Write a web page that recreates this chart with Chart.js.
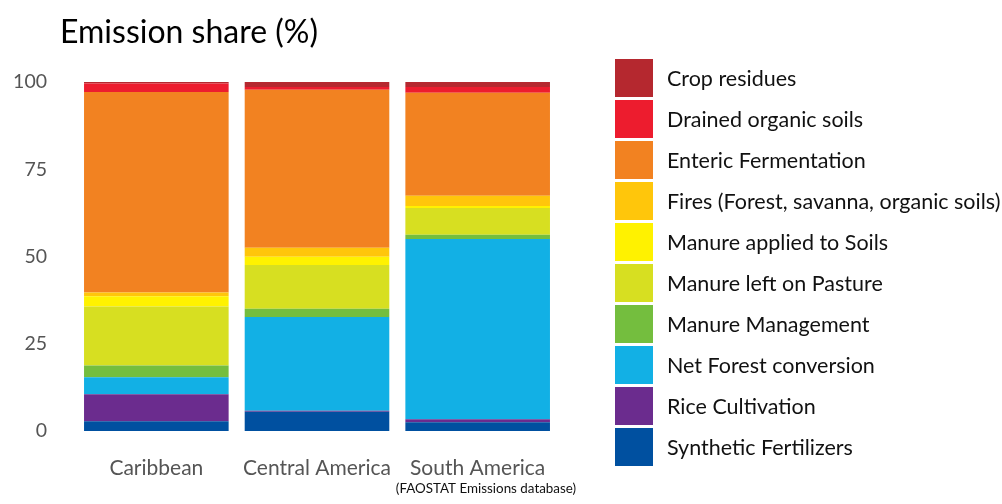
<!DOCTYPE html>
<html>
<head>
<meta charset="utf-8">
<script src="https://cdn.jsdelivr.net/npm/chart.js@4"></script>
<style>
  html, body { margin: 0; padding: 0; background: #fff; }
  #wrap { position: relative; width: 1002px; height: 504px; }
</style>
</head>
<body>
<div id="wrap"><canvas id="chart" width="1002" height="504"></canvas></div>
<script>
var regions = ["Caribbean", "Central America", "South America"];

// stacked from the bottom up
var syntheticFertilizers = [2.8, 5.5, 2.5];
var riceCultivation      = [7.7, 0.3, 0.9];
var netForestConversion  = [4.9, 26.9, 51.6];
var manureManagement     = [3.4, 2.3, 1.2];
var manureLeftOnPasture  = [16.9, 12.6, 7.7];
var manureAppliedSoils   = [2.9, 2.3, 0.6];
var fires                = [1.1, 2.6, 2.9];
var entericFermentation  = [57.4, 45.3, 29.5];
var drainedOrganicSoils  = [2.5, 0.8, 1.7];
var cropResidues         = [0.4, 1.5, 1.4];

var yTicks = [0, 25, 50, 75, 100];

var FONT = "Lato, 'Open Sans', sans-serif";

function ds(label, data, color) {
  return { label: label, data: data, backgroundColor: color, borderWidth: 0,
           barPercentage: 1, categoryPercentage: 0.9 };
}

// draws the right-hand legend, the title and the source note
var extras = {
  id: "extras",
  afterDraw: function (chart) {
    var ctx = chart.ctx;
    ctx.save();
    ctx.textBaseline = "alphabetic";
    ctx.textAlign = "left";
    ctx.fillStyle = "#000";
    ctx.font = "32px " + FONT;
    ctx.fillText("Emission share (%)", 60, 43);

    var sets = chart.data.datasets;
    ctx.font = "21.5px " + FONT;
    for (var i = 0; i < sets.length; i++) {
      var d = sets[sets.length - 1 - i];
      var y = 59 + i * 41;
      ctx.fillStyle = d.backgroundColor;
      ctx.fillRect(615, y, 38, 38);
      ctx.fillStyle = "#111";
      ctx.fillText(d.label, 667, y + 27);
    }

    ctx.font = "13.4px " + FONT;
    ctx.textAlign = "center";
    ctx.fillStyle = "#111";
    ctx.fillText("(FAOSTAT Emissions database)", 486, 493);
    ctx.restore();
  }
};

new Chart(document.getElementById("chart"), {
  type: "bar",
  data: {
    labels: regions,
    datasets: [
      ds("Synthetic Fertilizers", syntheticFertilizers, "#0050A0"),
      ds("Rice Cultivation", riceCultivation, "#6B2C8E"),
      ds("Net Forest conversion", netForestConversion, "#12B0E5"),
      ds("Manure Management", manureManagement, "#74BE3E"),
      ds("Manure left on Pasture", manureLeftOnPasture, "#D7DF21"),
      ds("Manure applied to Soils", manureAppliedSoils, "#FFF200"),
      ds("Fires (Forest, savanna, organic soils)", fires, "#FFC60B"),
      ds("Enteric Fermentation", entericFermentation, "#F28221"),
      ds("Drained organic soils", drainedOrganicSoils, "#ED1C2E"),
      ds("Crop residues", cropResidues, "#B5282F")
    ]
  },
  options: {
    responsive: false,
    animation: false,
    layout: { padding: { left: 0, top: 82, right: 444, bottom: 0 } },
    plugins: {
      legend: { display: false },
      tooltip: { enabled: false }
    },
    scales: {
      x: {
        stacked: true,
        grid: { display: false, drawTicks: false },
        border: { display: false },
        ticks: { color: "#555", font: { family: FONT, size: 21 }, padding: 25 },
        afterFit: function (s) { s.height = 73; }
      },
      y: {
        stacked: true,
        min: 0,
        max: 100,
        afterBuildTicks: function (s) { s.ticks = yTicks.map(function (v) { return { value: v }; }); },
        grid: { display: false, drawTicks: false },
        border: { display: false },
        ticks: { color: "#555", font: { family: FONT, size: 19.5 }, padding: 29 },
        afterFit: function (s) { s.width = 76; }
      }
    }
  },
  plugins: [extras]
});
</script>
</body>
</html>
